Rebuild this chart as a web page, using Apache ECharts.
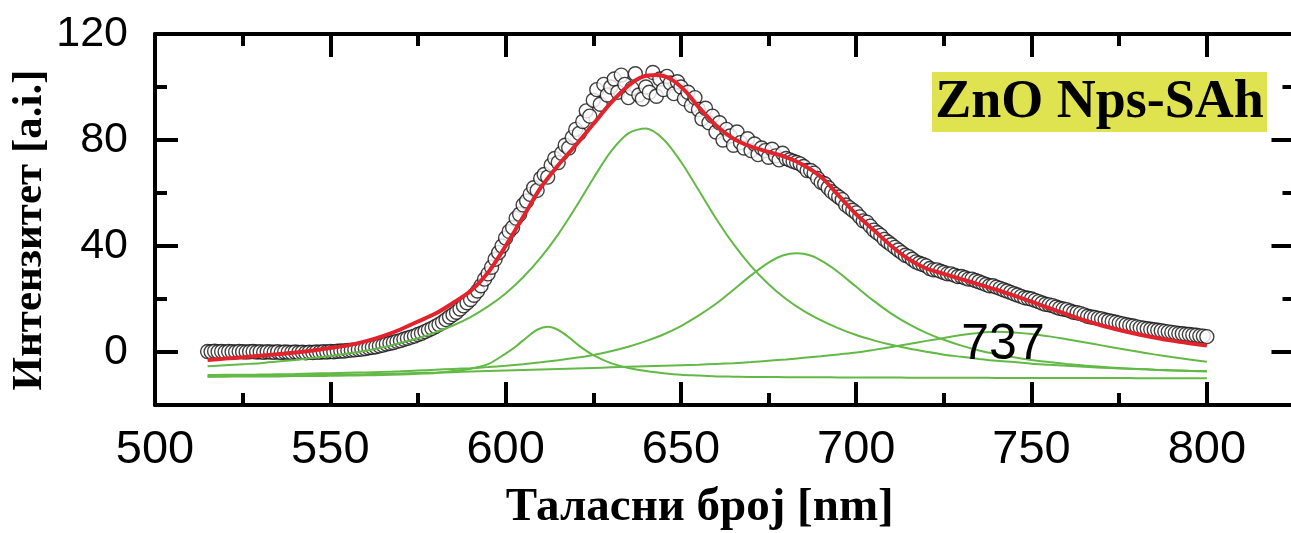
<!DOCTYPE html>
<html><head><meta charset="utf-8">
<script src="https://cdn.jsdelivr.net/npm/echarts@6/dist/echarts.min.js"></script>
<style>html,body{margin:0;padding:0;background:#fff}#c{width:1291px;height:533px}</style>
</head><body><div id="c"></div>
<script>
// ---- measured spectrum (open circles) ----
const measXa = [515,516,517,518,519,520,521,522,523,524,
  525,526,527,528,529,530,531,532,533,534,
  535,536,537,538,539,540,541,542,543,544,
  545,546,547,548,549,550,551,552,553,554,
  555,556,557,558,559,560,561,562,563,564,
  565,566,567,568,569,570,571,572,573,574,
  575,576,577,578,579,580,581,582,583,584,
  585,586,587,588,589,590,591,592,593,594,
  595];
const measYa = [0.2,0.1,0.3,0.1,0.2,0.0,0.2,0.1,0.0,0.2,
  0.1,0.0,0.1,0.2,0.0,0.1,-0.1,0.1,0.0,-0.1,
  0.1,-0.2,0.0,-0.1,-0.2,0.0,-0.2,-0.1,-0.3,-0.1,
  -0.2,0.0,-0.1,0.1,0.0,0.2,0.1,0.3,0.4,0.4,
  0.6,0.7,0.8,1.0,1.1,1.3,1.6,1.8,2.0,2.3,
  2.6,3.0,3.3,3.6,4.0,4.3,4.8,5.2,5.6,6.0,
  6.6,7.1,7.7,8.3,8.9,9.6,10.4,11.2,12.2,13.2,
  14.1,15.0,16.2,17.4,18.6,19.8,21.4,23.0,25.0,27.5,
  29.5];
const measXb = [596,597,598,599,600,601,602,603,604,605,
  606,607,608,609,610,611,612,613,614,615,
  616,617,618,619,620,621,622,623,624,625,
  626,627,628,629,630,631,632,633,634,635,
  636,637,638,639,640,641,642,643,644,645,
  646,647,648,649,650,651,652,653,654,655,
  656,657,658,659,660,661,662,663,664,665,
  666,667,668,669,670,671,672,673,674,675,
  676,677,678,679,680];
const measYb = [32,35,37.5,40,43,45.5,47,50.5,52,55.5,
  57,59.5,62,61,65.5,67,66,70.5,73,71.5,
  75,78,77,81,84,82.5,87,91,89,95,
  99,93.5,101,97,100,103,98,104.5,101,96,
  99.5,105,97,95.5,100,98,105.5,96.5,103,99,
  104,101.5,97.5,102,100,95.5,98,93,96,91.5,
  88,92,86.5,89,83,86.5,80,84,81.5,78,
  83,79,77,80.5,76,78.5,74.5,77,76,73.5,
  76.5,74,72.5,75,73];
const measXc = [681,682,683,684,685,686,687,688,689,690,
  691,692,693,694,695,696,697,698,699,700,
  701,702,703,704,705,706,707,708,709,710,
  711,712,713,714,715,716,717,718,719,720,
  721,722,723,724,725,726,727,728,729,730,
  731,732,733,734,735,736,737,738,739,740,
  741,742,743,744,745,746,747,748,749,750,
  751,752,753,754,755,756,757,758,759,760,
  761,762,763,764,765,766,767,768,769,770,
  771,772,773,774,775,776,777,778,779,780,
  781,782,783,784,785,786,787,788,789,790,
  791,792,793,794,795,796,797,798,799,800];
const measYc = [72.5,72,71.5,71,70,68.5,68.5,67.5,65.5,64,
  63.5,62,60.5,59.5,58.5,57.5,55.5,54.5,53.5,52.5,
  51,49.5,49,47.5,46,45,44,42.5,41.5,40.5,
  39.5,38.5,37.5,36.5,36,35,34,33.5,33,32.5,
  31.5,31,31,30.5,30,29.5,29.5,29,28.5,28.5,
  28,27.5,27.5,27,26.5,26,25.5,25,25,24.5,
  24,23.5,23,22.5,22,21.5,21,20.5,20.3,20,
  19.5,19,18.5,18,17.8,17.5,17,16.5,16.2,16,
  15.5,15,14.8,14.5,14,13.5,13.2,13,12.7,12.5,
  12.1,11.8,11.5,11.2,10.9,10.6,10.3,10,9.8,9.5,
  9.2,9,8.8,8.6,8.4,8.2,8,7.8,7.6,7.4,
  7.2,7,6.9,6.7,6.6,6.4,6.3,6.1,6,5.8];

// ---- cumulative fit (red) ----
const fitX = [515,520,525,530,535,540,545,550,555,560,
  565,570,575,580,585,590,595,600,605,610,
  615,620,625,630,635,639,643,647,651,655,660,
  665,670,675,680,685,690,695,700,705,710,
  715,720,725,730,735,740,745,750,755,760,
  765,770,775,780,785,790,795,800];
const fitY = [-3,-2.5,-2,-1.4,-0.8,-0.2,0.6,1.5,2.5,4,
  6,8.5,11.5,14.5,18.5,23,30,40,51,62,
  70.5,78,86,94,100.5,103.8,104.5,103,98.8,92.5,85.5,
  80.5,77.5,75.5,73.5,70.5,66,59,52,46,40,
  35,31.5,29.5,27.5,25.5,23.5,21.3,19,16.6,14.3,
  12,10,8.3,6.8,5.5,4.3,3.3,2.4];

// ---- component peaks (green) ----
const curveX = [515,520,525,530,535,540,545,550,555,560,
  565,570,575,580,585,590,595,600,605,610,
  615,620,625,630,635,640,645,650,655,660,
  665,670,675,680,685,690,695,700,705,710,
  715,720,725,730,735,740,745,750,755,760,
  765,770,775,780,785,790,795,800];
const peak639Y = [-5.4,-5.0,-4.6,-4.2,-3.6,-3.0,-2.3,-1.5,-0.6,0.5,
  1.8,3.4,5.2,7.4,10,13.2,17.2,22.1,28.2,35.6,
  44.4,54.6,65.5,75.6,82.5,84.3,80.3,71.8,61.2,50.4,
  40.7,32.4,25.6,20,15.5,11.9,8.9,6.4,4.4,2.7,
  1.3,0.1,-1,-1.8,-2.6,-3.3,-3.8,-4.4,-4.8,-5.2,
  -5.6,-5.9,-6.2,-6.4,-6.7,-6.9,-7.1,-7.2];
const peak737Y = [-9.2,-9.1,-9.1,-9.0,-8.9,-8.8,-8.7,-8.6,-8.5,-8.4,
  -8.2,-8.1,-7.9,-7.8,-7.6,-7.4,-7.2,-7.0,-6.8,-6.6,
  -6.4,-6.2,-6.0,-5.8,-5.6,-5.4,-5.2,-5.0,-4.8,-4.5,
  -4.2,-3.8,-3.3,-2.8,-2.2,-1.6,-0.9,-0.2,0.8,1.9,
  3.0,4.2,5.3,6.4,7.2,7.6,7.4,6.8,5.9,4.8,
  3.7,2.5,1.3,0.2,-0.9,-1.9,-2.8,-3.7];
const peak611X = [515,520,525,530,535,540,545,550,555,560,
  565,570,575,580,585,590,595,600,603,606,609,612,615,618,621,
  625,630,635,640,645,650,655,660,
  665,670,675,680,685,690,695,700,705,710,
  715,720,725,730,735,740,745,750,755,760,
  765,770,775,780,785,790,795,800];
const peak611Y = [-9.3,-9.3,-9.2,-9.2,-9.2,-9.1,-9.1,-9.0,-8.9,-8.8,
  -8.7,-8.5,-8.2,-7.9,-7.2,-6.3,-4.6,-0.6,2.2,5.5,8.4,9.5,8.3,5.6,2.3,
  -1.2,-4.2,-6,-7.2,-8,-8.6,-8.9,-9.2,
  -9.3,-9.4,-9.4,-9.5,-9.5,-9.5,-9.6,-9.6,-9.6,-9.6,
  -9.7,-9.7,-9.7,-9.7,-9.7,-9.8,-9.8,-9.8,-9.8,-9.8,
  -9.8,-9.8,-9.8,-9.9,-9.9,-9.9,-9.9,-9.9];
const peak683X = [515,520,525,530,535,540,545,550,555,560,
  565,570,575,580,585,590,595,600,605,610,
  615,620,625,630,635,640,645,650,655,660,
  665,670,675,679,683,687,691,695,700,705,710,
  715,720,725,730,735,740,745,750,755,760,
  765,770,775,780,785,790,795,800];
const peak683Y = [-8.7,-8.6,-8.6,-8.5,-8.4,-8.3,-8.1,-8.0,-7.8,-7.7,
  -7.5,-7.3,-7.0,-6.7,-6.4,-6.1,-5.7,-5.2,-4.6,-3.9,
  -3.1,-2.2,-1.1,0.3,2.0,4.1,6.6,9.8,13.7,18.2,
  23.5,28.9,33.7,36.4,37.3,36.4,33.7,30,24.6,19.3,14.5,
  10.5,7.2,4.6,2.4,0.6,-0.8,-2,-3,-3.8,-4.5,
  -5.1,-5.6,-6,-6.4,-6.7,-7,-7.2,-7.4];

// ---- texts ----
const xName = 'Таласни број [nm]';
const yName = 'Интензитет [a.i.]';
const sampleLabel = 'ZnO Nps-SAh';
const peakLabel = '737';

const zip = (xs, ys) => xs.map((x, i) => [x, ys[i]]);
const measured = zip(measXa, measYa).concat(zip(measXb, measYb), zip(measXc, measYc));

const BLACK = '#000';
const lineW = 4;
function xAx(pos, interval, len, opts) {
  return Object.assign({
    gridIndex: 0, type: 'value', position: pos, min: 500, max: 825, interval: interval,
    axisLine: { show: true, onZero: false, lineStyle: { color: BLACK, width: lineW } },
    axisTick: { show: true, inside: true, length: len, lineStyle: { color: BLACK, width: lineW } },
    axisLabel: { show: false }, splitLine: { show: false }
  }, opts || {});
}
function yAx(grid, pos, min, interval, len, opts) {
  return Object.assign({
    gridIndex: grid, type: 'value', position: pos, min: min, max: 120, interval: interval,
    axisLine: { show: true, onZero: false, lineStyle: { color: BLACK, width: lineW } },
    axisTick: { show: true, inside: true, length: len, lineStyle: { color: BLACK, width: lineW } },
    axisLabel: { show: false }, splitLine: { show: false }
  }, opts || {});
}

const chart = echarts.init(document.getElementById('c'), null, { renderer: 'canvas' });
const green = '#63b946';
const SMOOTH = 0.3;
function greenLine(xs, ys) {
  return { type: 'line', xAxisIndex: 0, yAxisIndex: 0, data: zip(xs, ys), smooth: SMOOTH,
    showSymbol: false, lineStyle: { color: green, width: 2 }, z: 3 };
}
const option = {
  animation: false,
  backgroundColor: '#fff',
  grid: [
    { left: 155, top: 34, width: 1139.5, height: 371, outerBoundsMode: 'none', containLabel: false },
    { left: 155, top: 34, width: 1139.5, height: 318, outerBoundsMode: 'none', containLabel: false }
  ],
  xAxis: [
    xAx('bottom', 50, 23, {
      axisLabel: { show: true, fontSize: 47, fontFamily: 'Liberation Sans', color: BLACK, margin: 22, showMaxLabel: false },
      name: xName, nameLocation: 'middle', nameGap: 79,
      nameTextStyle: { fontFamily: 'Liberation Serif', fontWeight: 'bold', fontSize: 47, color: BLACK, padding: [0, 50, 0, 0] }
    }),
    xAx('top', 50, 23),
    xAx('bottom', 25, 12, { axisLine: { show: false, onZero: false } }),
    xAx('top', 25, 12, { axisLine: { show: false, onZero: false } }),
    { gridIndex: 1, type: 'value', min: 500, max: 825, show: false }
  ],
  yAxis: [
    yAx(0, 'left', -20, 20, 12, {
      name: yName, nameLocation: 'middle', nameGap: 104, nameRotate: 90,
      nameTextStyle: { fontFamily: 'Liberation Serif', fontWeight: 'bold', fontSize: 43, color: BLACK, padding: [0, 21, 0, 0] }
    }),
    yAx(0, 'right', -20, 20, 12, { axisLine: { show: false, onZero: false } }),
    yAx(1, 'left', 0, 40, 23, {
      axisLine: { show: false, onZero: false },
      axisLabel: { show: true, fontSize: 43, fontFamily: 'Liberation Sans', color: BLACK, margin: 27 }
    }),
    yAx(1, 'right', 0, 40, 23, { axisLine: { show: false, onZero: false } })
  ],
  series: [
    { type: 'scatter', xAxisIndex: 0, yAxisIndex: 0, data: measured, symbol: 'circle', symbolSize: 14,
      itemStyle: { color: '#fff', borderColor: '#111', borderWidth: 1.4 }, z: 2 },
    greenLine(curveX, peak639Y),
    greenLine(peak611X, peak611Y),
    greenLine(peak683X, peak683Y),
    greenLine(curveX, peak737Y),
    { type: 'line', xAxisIndex: 0, yAxisIndex: 0, data: zip(fitX, fitY), smooth: SMOOTH, showSymbol: false,
      lineStyle: { color: '#e3232b', width: 4 }, z: 4 }
  ],
  graphic: [
    { type: 'rect', shape: { x: 932, y: 72, width: 335, height: 60 }, style: { fill: '#dfe34f' }, z: 10 },
    { type: 'text', x: 1099.5, y: 103, z: 11,
      style: { text: sampleLabel, fill: BLACK, font: 'bold 54px "Liberation Serif"', align: 'center', verticalAlign: 'middle' } },
    { type: 'text', x: 1003, y: 345, z: 11,
      style: { text: peakLabel, fill: BLACK, font: '50px "Liberation Sans"', align: 'center', verticalAlign: 'middle' } }
  ]
};
chart.setOption(option);
</script></body></html>
